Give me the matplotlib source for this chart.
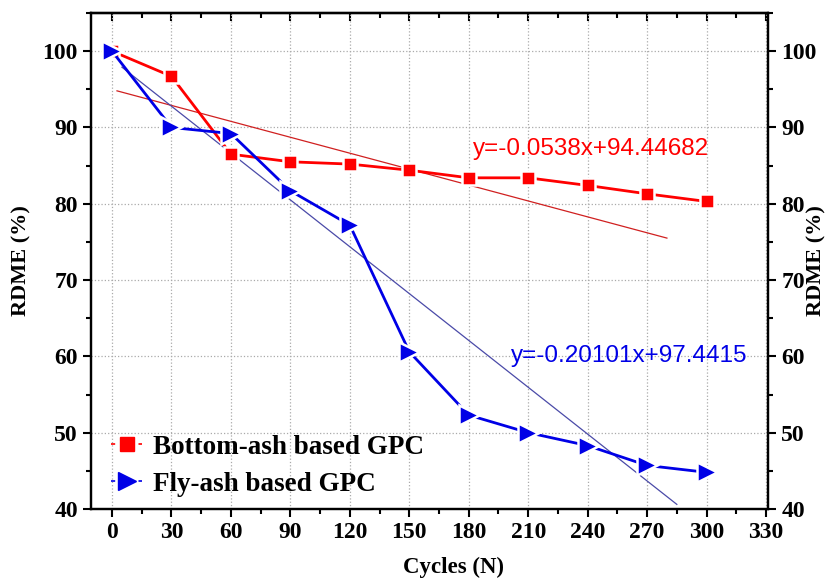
import matplotlib
matplotlib.use("Agg")
import matplotlib.pyplot as plt
from matplotlib.ticker import MultipleLocator, NullFormatter
from matplotlib.lines import Line2D

cycles = [0, 30, 60, 90, 120, 150, 180, 210, 240, 270, 300]
bottom_ash = [100, 96.7, 86.5, 85.5, 85.2, 84.4, 83.4, 83.4, 82.4, 81.3, 80.3]
fly_ash = [100, 90.0, 89.2, 81.7, 77.2, 60.6, 52.3, 50.0, 48.3, 45.7, 44.8]

fit_red_x = [2.5, 280]
fit_red_y = [94.8, 75.5]
fit_blue_x = [5, 285]
fit_blue_y = [97.9, 40.6]

eq_red = "y=-0.0538x+94.44682"
eq_blue = "y=-0.20101x+97.4415"
labels = ["Bottom-ash based GPC", "Fly-ash based GPC"]

RED = '#ff0000'
BLUE = '#0000e6'
serif = ["Liberation Serif", "DejaVu Serif"]
sans = ["Liberation Sans", "DejaVu Sans"]
plt.rcParams['font.family'] = serif
plt.rcParams['font.weight'] = 'bold'

fig = plt.figure(figsize=(8.29, 5.81), dpi=100)
ax = fig.add_axes([0.1098, 0.124, 0.8166, 0.8536])

ax.plot(fit_red_x, fit_red_y, color='#d02020', lw=0.9, zorder=2)
ax.plot(fit_blue_x, fit_blue_y, color='#4a4aa8', lw=0.9, zorder=2)

ax.plot(cycles, bottom_ash, color=RED, lw=2, marker='s', markersize=10,
        markerfacecolor=RED, markeredgecolor='white', markeredgewidth=1.8, zorder=3)
ax.plot(cycles, fly_ash, color=BLUE, lw=2, marker='>', markersize=15,
        markerfacecolor=BLUE, markeredgecolor='white', markeredgewidth=1.8, zorder=3)

ax.text(241.5, 87.2, eq_red, color=RED, fontsize=17.5, fontweight='normal',
        family=sans, ha='center', va='center')
ax.text(261, 60.1, eq_blue, color=BLUE, fontsize=17.5, fontweight='normal',
        family=sans, ha='center', va='center')

ax.set_xlim(-10.6, 331)
ax.set_ylim(40, 105)
ax.set_xticks(range(0, 331, 30))
ax.set_yticks(range(40, 101, 10))
ax.xaxis.set_minor_locator(MultipleLocator(15))
ax.yaxis.set_minor_locator(MultipleLocator(5))

ax.grid(True, which='major', color='#aaaaaa', linestyle=':', lw=0.9)
ax.set_axisbelow(True)

ax.tick_params(axis='both', which='major', labelsize=17, width=1.5, length=6, direction='out')
ax.tick_params(axis='both', which='minor', width=1.5, length=3.5, direction='out')
for lab in ax.get_xticklabels() + ax.get_yticklabels():
    lab.set_fontweight('bold')
for sp in ax.spines.values():
    sp.set_linewidth(1.6)

top = ax.secondary_xaxis('top')
top.set_xticks(range(0, 331, 30))
top.xaxis.set_minor_locator(MultipleLocator(15))
top.xaxis.set_major_formatter(NullFormatter())
top.tick_params(axis='x', which='major', direction='in', length=6, width=1.5)
top.tick_params(axis='x', which='minor', direction='in', length=3.5, width=1.5)
top.spines['top'].set_linewidth(1.6)

ax.set_xlabel("Cycles (N)", fontsize=16.5, fontweight='bold')
ax.xaxis.label.set_verticalalignment('center')
ax.xaxis.set_label_coords(0.535, -0.117)
ax.set_ylabel("RDME (%)", fontsize=16, fontweight='bold')
ax.yaxis.label.set_verticalalignment('center')
ax.yaxis.label.set_horizontalalignment('center')
ax.yaxis.set_label_coords(-0.102, 0.5)

ax2 = ax.twinx()
ax2.set_ylim(ax.get_ylim())
ax2.set_yticks(range(40, 101, 10))
ax2.yaxis.set_minor_locator(MultipleLocator(5))
ax2.tick_params(axis='y', which='major', labelsize=17, width=1.5, length=6, direction='out')
ax2.tick_params(axis='y', which='minor', width=1.5, length=3.5, direction='out')
for lab in ax2.get_yticklabels():
    lab.set_fontweight('bold')
ax2.set_ylabel("RDME (%)", fontsize=16, fontweight='bold', rotation=90)
ax2.yaxis.label.set_verticalalignment('center')
ax2.yaxis.label.set_horizontalalignment('center')
ax2.yaxis.set_label_coords(1.072, 0.5)
for sp in ax2.spines.values():
    sp.set_linewidth(1.6)

handles = [
    Line2D([], [], color=RED, lw=1.2, linestyle=(0, (2.5, 3)), marker='s',
           markersize=10, markerfacecolor=RED, markeredgecolor=RED),
    Line2D([], [], color=BLUE, lw=1.2, linestyle=(0, (2.5, 3)), marker='>',
           markersize=13, markerfacecolor=BLUE, markeredgecolor=BLUE),
]
ax.legend(handles, labels, loc='upper left', bbox_to_anchor=(0.03, 0.15), frameon=False,
          prop={'family': serif, 'weight': 'bold', 'size': 19.5},
          handlelength=1.15, handletextpad=0.4, labelspacing=0.45,
          borderpad=0, borderaxespad=0)

fig.savefig("out.png", dpi=100)
